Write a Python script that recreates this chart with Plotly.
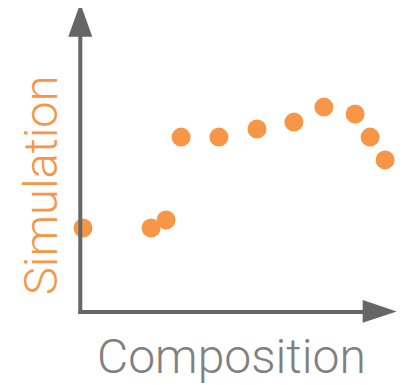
import plotly.graph_objects as go

# Data (arbitrary units: composition 0..1, simulation 0..1)
composition = [0.01, 0.237, 0.287, 0.337, 0.463, 0.59, 0.713, 0.813, 0.917, 0.967, 1.017]
simulation = [0.28, 0.28, 0.307, 0.583, 0.583, 0.61, 0.633, 0.683, 0.66, 0.583, 0.507]

x_label = "Composition"
y_label = "Simulation"

W, H = 408, 385
OFF = 8  # page body margin offset
ORANGE = "#F79646"
AXIS = "#666666"
LABEL_GRAY = "#808080"

# pixel mapping (page pixels): x=0 at px 80, y=0 at py 312, 300 px per unit
sx = 300.0
ox = 80 - OFF
oy = 312 - OFF
xr = [-ox / sx, (W - ox) / sx]
yr = [(oy - H) / sx, oy / sx]

def px(v):
    return (v - 80) / sx

def py(v):
    return (312 - v) / sx

fig = go.Figure()
fig.add_trace(go.Scatter(
    x=composition, y=simulation, mode="markers",
    marker=dict(color=ORANGE, size=19, line=dict(width=0)),
    hoverinfo="skip", showlegend=False,
))

shapes = [
    dict(type="line", xref="x", yref="y", x0=px(80.3), x1=px(80.3), y0=py(314), y1=py(34),
         line=dict(color=AXIS, width=4)),
    dict(type="line", xref="x", yref="y", x0=px(78.3), x1=px(365), y0=py(312), y1=py(312),
         line=dict(color=AXIS, width=4)),
    dict(type="path", xref="x", yref="y",
         path=f"M {px(68.3)} {py(36.7)} L {px(92.3)} {py(36.7)} L {px(80.3)} {py(3.3)} Z",
         fillcolor=AXIS, line=dict(width=0)),
    dict(type="path", xref="x", yref="y",
         path=f"M {px(362.7)} {py(300)} L {px(362.7)} {py(322.7)} L {px(396.7)} {py(311.5)} Z",
         fillcolor=AXIS, line=dict(width=0)),
]

annotations = [
    dict(text=x_label, xref="paper", yref="paper", x=(231.5 - OFF) / W, y=1 - (356 - OFF) / H,
         xanchor="center", yanchor="middle", showarrow=False,
         font=dict(family="Roboto", size=48, color=LABEL_GRAY, weight=300)),
    dict(text=y_label, xref="paper", yref="paper", x=(40 - OFF) / W, y=1 - (185 - OFF) / H,
         xanchor="center", yanchor="middle", showarrow=False, textangle=-90,
         font=dict(family="Roboto", size=47, color=ORANGE, weight=300)),
]

fig.update_layout(
    width=W, height=H,
    margin=dict(l=0, r=0, t=0, b=0),
    paper_bgcolor="white", plot_bgcolor="white",
    xaxis=dict(range=xr, visible=False, domain=[0, 1], fixedrange=True),
    yaxis=dict(range=yr, visible=False, domain=[0, 1], fixedrange=True),
    shapes=shapes, annotations=annotations,
)

fig.write_html("out.html")
